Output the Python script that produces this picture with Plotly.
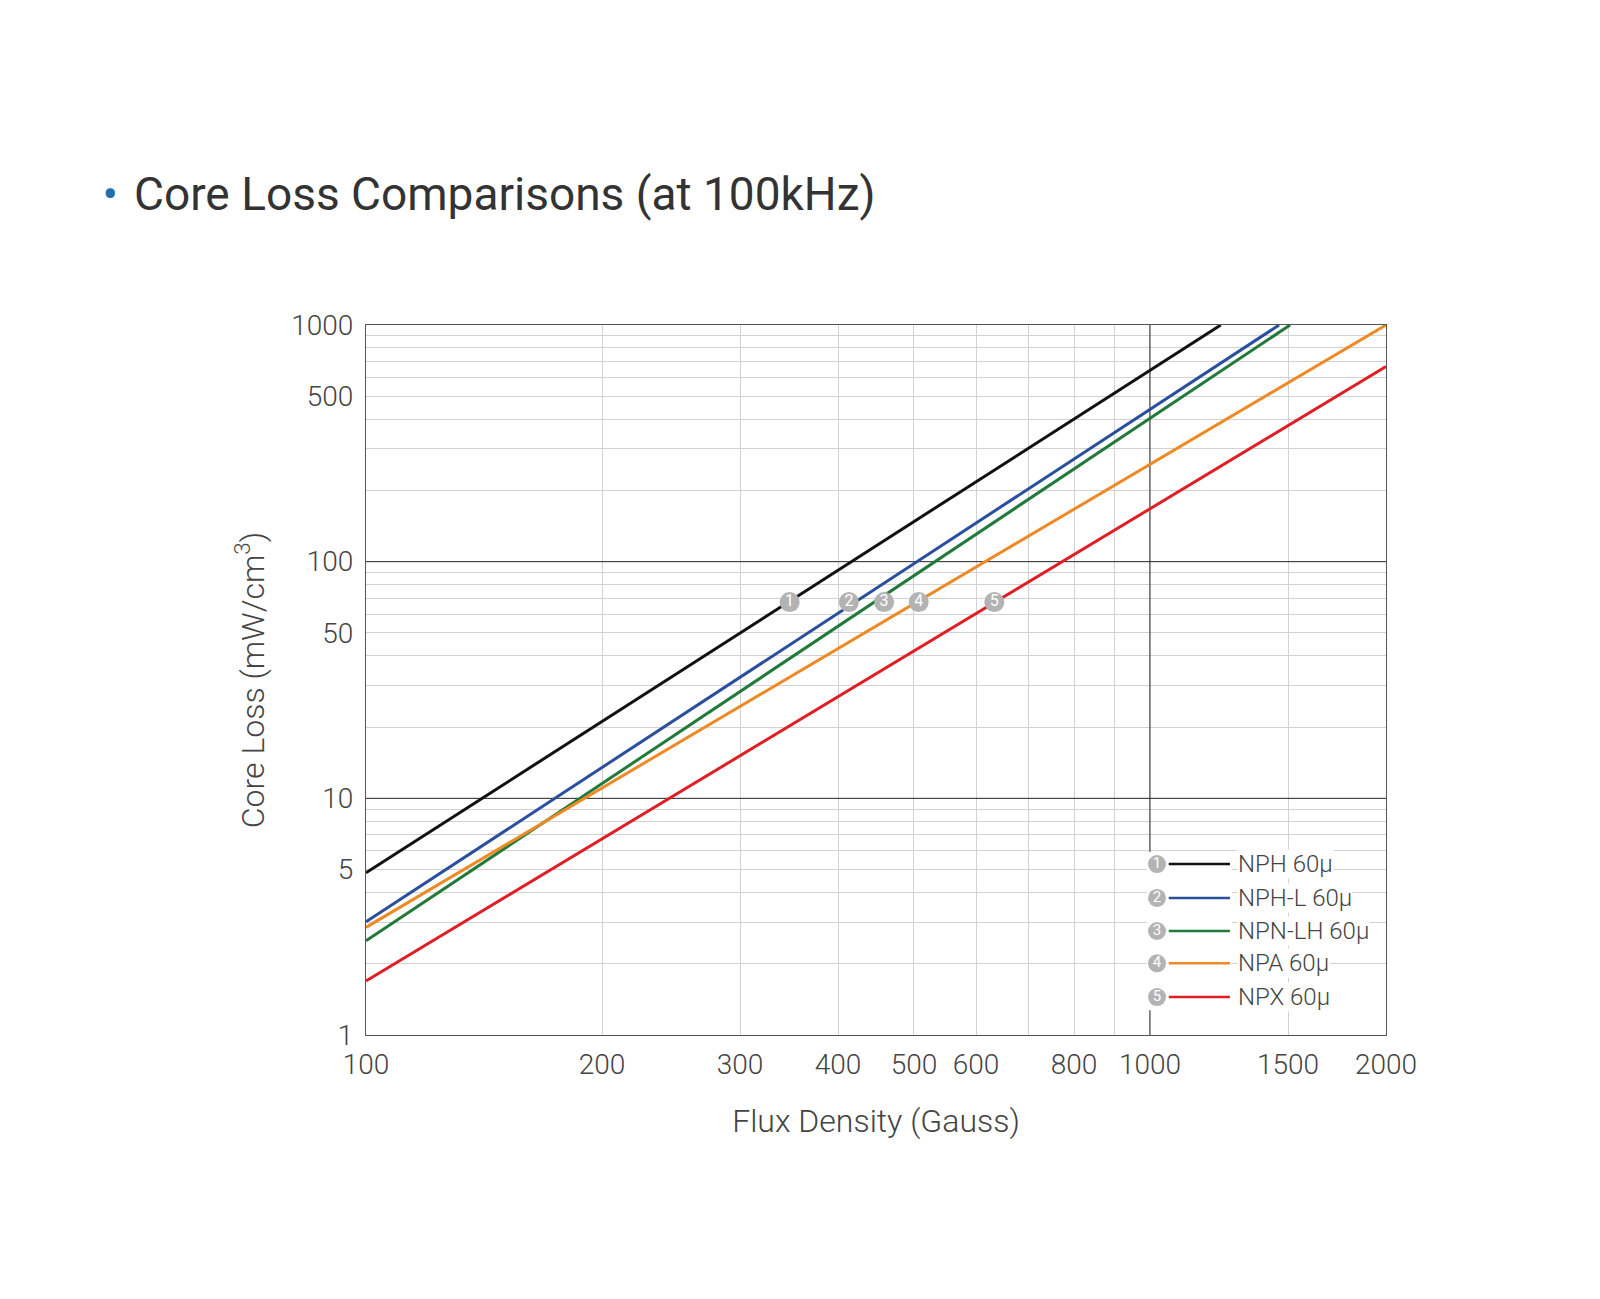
import plotly.graph_objects as go

# values (log-log straight lines, start and end points)
series_names = ['NPH 60μ', 'NPH-L 60μ', 'NPN-LH 60μ', 'NPA 60μ', 'NPX 60μ']
series_colors = ['#111111', '#2a4f9c', '#217a3a', '#ee8a25', '#df1f26']
nph_x = [100, 1231]
nph_y = [4.85, 1000]
nphl_x = [100, 1461]
nphl_y = [3.01, 1000]
npnlh_x = [100, 1509]
npnlh_y = [2.50, 1000]
npa_x = [100, 2000]
npa_y = [2.85, 1000]
npx_x = [100, 2000]
npx_y = [1.69, 667]

# numbered badges sitting on the lines
badge_labels = ['1', '2', '3', '4', '5']
badge_x = [347, 413, 458, 507, 633]
badge_y = [67.5, 67.5, 67.5, 67.5, 67.5]

# axis ticks
x_ticks = [100, 200, 300, 400, 500, 600, 800, 1000, 1500, 2000]
x_minor = [700, 900]
y_ticks = [1, 5, 10, 50, 100, 500, 1000]
y_minor = [2, 3, 4, 6, 7, 8, 9,
           20, 30, 40, 60, 70, 80, 90,
           200, 300, 400, 600, 700, 800, 900]
major_y = [10, 100]
major_x = [1000]

FONT = 'Roboto'
GREY_TXT = '#444444'

xs = [nph_x, nphl_x, npnlh_x, npa_x, npx_x]
ys = [nph_y, nphl_y, npnlh_y, npa_y, npx_y]

fig = go.Figure()

# darker decade lines
for v in major_y:
    fig.add_trace(go.Scatter(x=[x_ticks[0], x_ticks[-1]], y=[v, v], mode='lines',
                             line=dict(color='#2a2a2a', width=1), hoverinfo='skip',
                             showlegend=False))
for v in major_x:
    fig.add_trace(go.Scatter(x=[v, v], y=[y_ticks[0], y_ticks[-1]], mode='lines',
                             line=dict(color='#2a2a2a', width=1), hoverinfo='skip',
                             showlegend=False))

for name, color, x, y in zip(series_names, series_colors, xs, ys):
    fig.add_trace(go.Scatter(x=x, y=y, mode='lines', name=name,
                             line=dict(color=color, width=3), showlegend=False))

fig.add_trace(go.Scatter(x=badge_x, y=badge_y, mode='markers+text', text=badge_labels,
                         textposition='middle center',
                         textfont=dict(family=FONT, size=16, color='white'),
                         marker=dict(size=20, color='#b3b3b3'),
                         hoverinfo='skip', showlegend=False))

# hand-made legend on an overlay axis (0..1 over the plot area)
leg_circle_x = 0.7755
leg_line_x = [0.787, 0.847]
leg_text_x = 0.854
leg_rows = [0.2408, 0.193, 0.1465, 0.101, 0.0535]

fig.add_trace(go.Scatter(x=[0.7655, 0.849, 0.849, 0.7655, 0.7655],
                         y=[0.035, 0.035, 0.258, 0.258, 0.035],
                         fill='toself', fillcolor='white', mode='lines',
                         line=dict(width=0, color='white'),
                         xaxis='x2', yaxis='y2', hoverinfo='skip', showlegend=False))
for i, (name, color) in enumerate(zip(series_names, series_colors)):
    row = leg_rows[i]
    fig.add_trace(go.Scatter(x=leg_line_x, y=[row, row], mode='lines',
                             line=dict(color=color, width=2.5),
                             xaxis='x2', yaxis='y2', hoverinfo='skip', showlegend=False))
    fig.add_annotation(x=leg_text_x, y=row, xref='x2', yref='y2', text=name,
                       showarrow=False, xanchor='left', yanchor='middle',
                       bgcolor='white', borderpad=0,
                       font=dict(family=FONT, size=24, color=GREY_TXT, weight=300))
fig.add_trace(go.Scatter(x=[leg_circle_x] * 5, y=leg_rows, mode='markers+text',
                         text=badge_labels, textposition='middle center',
                         textfont=dict(family=FONT, size=15, color='white'),
                         marker=dict(size=18, color='#b3b3b3'),
                         hoverinfo='skip', showlegend=False,
                         xaxis='x2', yaxis='y2'))

axis_common = dict(
    showline=True, linecolor='#555555', linewidth=1, mirror=True,
    showgrid=True, gridcolor='#d2d2d2', gridwidth=1,
    ticks='', zeroline=False, tickmode='array',
    tickfont=dict(family=FONT, size=28, color=GREY_TXT, weight=300),
)

fig.update_layout(
    width=1600, height=1299,
    margin=dict(l=358, r=222, t=317, b=272),
    paper_bgcolor='white', plot_bgcolor='white',
    font=dict(family=FONT, color=GREY_TXT),
    title=dict(
        text="<span style='color:#1f6fae'>•</span>&#8202; Core Loss Comparisons (at 100kHz)",
        x=0.059, xref='container', xanchor='left',
        y=0.857, yref='container', yanchor='middle',
        font=dict(family=FONT, size=46, color='#333333'),
    ),
    xaxis=dict(type='log', range=[2, 3.30103], tickvals=x_ticks,
               ticktext=[str(v) for v in x_ticks], ticklabelstandoff=4,
               minor=dict(tickmode='array', tickvals=x_minor, showgrid=True,
                          gridcolor='#d2d2d2', ticks=''),
               title=dict(text='Flux Density (Gauss)', standoff=30,
                          font=dict(family=FONT, size=32, color=GREY_TXT, weight=300)),
               **axis_common),
    yaxis=dict(type='log', range=[0, 3], tickvals=y_ticks,
               ticktext=[str(v) for v in y_ticks], ticklabelstandoff=6,
               minor=dict(tickmode='array', tickvals=y_minor, showgrid=True,
                          gridcolor='#d2d2d2', ticks=''),
               title=dict(text='Core Loss (mW/cm<sup>3</sup>)', standoff=17,
                          font=dict(family=FONT, size=32, color=GREY_TXT, weight=300)),
               **axis_common),
    xaxis2=dict(overlaying='x', range=[0, 1], visible=False, fixedrange=True),
    yaxis2=dict(overlaying='y', range=[0, 1], visible=False, fixedrange=True),
)

fig.write_html("out.html")
